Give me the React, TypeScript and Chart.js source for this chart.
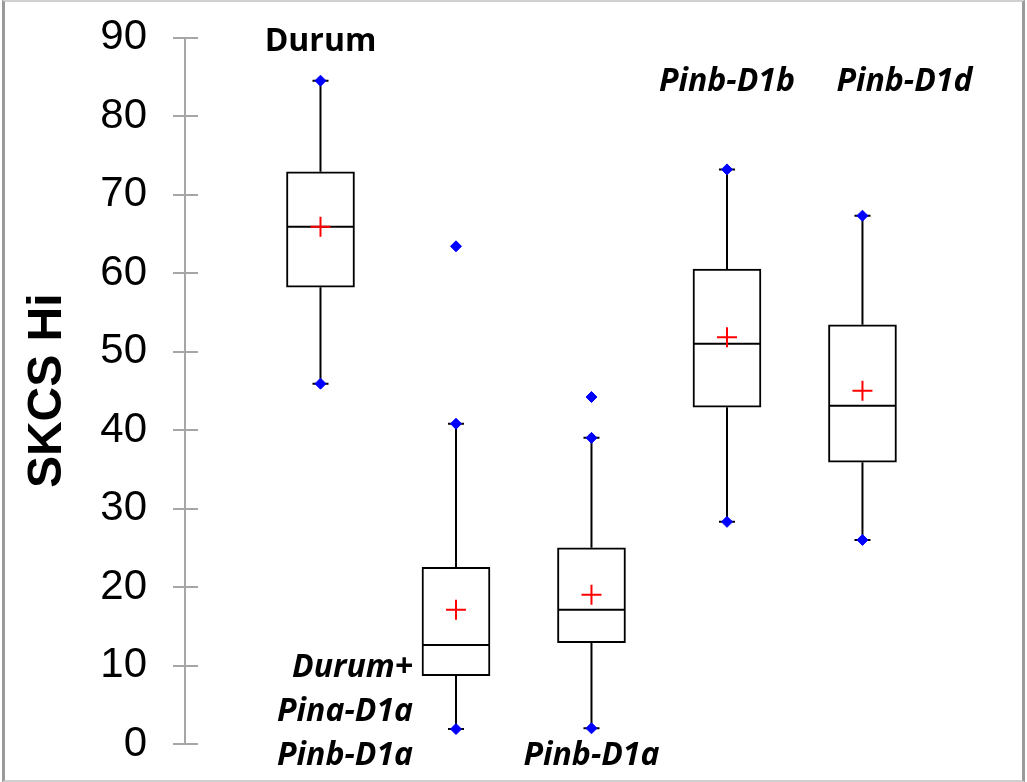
import React, { useEffect, useRef } from 'react';
import { Chart, registerables } from 'chart.js';

Chart.register(...registerables);

// ---- data ----
const categories = ['Durum', 'Durum+ Pina-D1a Pinb-D1a', 'Pinb-D1a', 'Pinb-D1b', 'Pinb-D1d'];
const minVals = [45.9, 1.9, 2.0, 28.3, 26.0];
const q1Vals = [58.2, 8.7, 12.9, 42.9, 35.9];
const medianVals = [65.9, 12.6, 17.1, 51.0, 43.1];
const q3Vals = [72.9, 22.5, 25.0, 60.5, 53.4];
const maxVals = [84.5, 40.8, 39.0, 73.2, 67.3];
const meanVals = [65.9, 17.1, 19.0, 51.8, 45.0];
const outlierCat = [1, 2];
const outlierVals = [63.4, 44.2];

const yTicksMin = 0;
const yTicksMax = 90;
const yTicksStep = 10;
const yTitle = 'SKCS Hi';
const xMin = -1;
const xMax = 4.956;

// group label annotations (anchor in data units)
const labelTexts = ['Durum', 'Durum+', 'Pina-D1a', 'Pinb-D1a', 'Pinb-D1a', 'Pinb-D1b', 'Pinb-D1d'];
const labelAtX = [0, 0.683, 0.683, 0.683, 2, 3, 4.31];
const labelAtY = [89.4, 9.7, 4.1, -1.5, -1.5, 84.4, 84.4];
const labelAlign = ['center', 'right', 'right', 'right', 'center', 'center', 'center'];
const labelItalic = [false, true, true, true, true, true, true];

const AXIS_COLOR = '#a6a6a6';
const LABEL_FONT = '"Open Sans", "Liberation Sans", sans-serif';

const decorPlugin = {
  id: 'decor',
  afterDraw(chart: any) {
    const { ctx, scales, chartArea } = chart;
    const x = scales.x;
    const y = scales.y;
    ctx.save();
    ctx.strokeStyle = AXIS_COLOR;
    ctx.lineWidth = 2;
    y.ticks.forEach((t: any) => {
      const py = Math.round(y.getPixelForValue(t.value));
      ctx.beginPath();
      ctx.moveTo(chartArea.left, py);
      ctx.lineTo(chartArea.left + 13, py);
      ctx.stroke();
    });
    ctx.fillStyle = '#000';
    ctx.textBaseline = 'middle';
    labelTexts.forEach((txt, i) => {
      ctx.font = `${labelItalic[i] ? 'italic ' : ''}bold 32px ${LABEL_FONT}`;
      ctx.textAlign = labelAlign[i];
      ctx.fillText(txt, x.getPixelForValue(labelAtX[i]), y.getPixelForValue(labelAtY[i]));
    });
    ctx.restore();
  },
};

export default function App() {
  const ref = useRef<HTMLCanvasElement>(null);

  useEffect(() => {
    const idx = categories.map((_, i) => i);
    const whiskerData: any[] = [];
    idx.forEach((i) => {
      whiskerData.push({ x: i, y: maxVals[i] });
      whiskerData.push({ x: i, y: q3Vals[i] });
      whiskerData.push({ x: i, y: null });
      whiskerData.push({ x: i, y: q1Vals[i] });
      whiskerData.push({ x: i, y: minVals[i] });
      whiskerData.push({ x: i, y: null });
    });
    const extremeData = idx.flatMap((i) => [
      { x: i, y: minVals[i] },
      { x: i, y: maxVals[i] },
    ]);
    const diamondData = [
      ...extremeData,
      ...outlierCat.map((c, k) => ({ x: c, y: outlierVals[k] })),
    ];

    const chart = new Chart(ref.current as HTMLCanvasElement, {
      type: 'bar',
      data: {
        datasets: [
          {
            type: 'scatter',
            label: 'extremes',
            data: diamondData,
            pointStyle: 'rectRot',
            pointRadius: 5.5,
            pointBackgroundColor: '#0000ff',
            pointBorderColor: '#0000ff',
            pointBorderWidth: 1,
            backgroundColor: '#0000ff',
            borderColor: '#0000ff',
            order: 1,
          } as any,
          {
            type: 'scatter',
            label: 'caps',
            data: extremeData,
            pointStyle: 'line',
            pointRadius: 8,
            pointBorderColor: '#000',
            pointBorderWidth: 2,
            borderColor: '#000',
            order: 2,
          } as any,
          {
            type: 'scatter',
            label: 'mean',
            data: idx.map((i) => ({ x: i, y: meanVals[i] })),
            pointStyle: 'cross',
            pointRadius: 10,
            pointBorderColor: '#ff0000',
            pointBorderWidth: 2,
            borderColor: '#ff0000',
            order: 3,
          } as any,
          {
            type: 'scatter',
            label: 'median',
            data: idx.map((i) => ({ x: i, y: medianVals[i] })),
            pointStyle: 'line',
            pointRadius: 33,
            pointBorderColor: '#000',
            pointBorderWidth: 2,
            borderColor: '#000',
            order: 4,
          } as any,
          {
            type: 'line',
            label: 'whiskers',
            data: whiskerData,
            borderColor: '#000',
            borderWidth: 2,
            pointRadius: 0,
            spanGaps: false,
            fill: false,
            tension: 0,
            order: 5,
          } as any,
          {
            type: 'bar',
            label: 'box',
            data: idx.map((i) => ({ x: i, y: [q1Vals[i], q3Vals[i]] })),
            backgroundColor: '#ffffff',
            borderColor: '#000',
            borderWidth: 2,
            borderSkipped: false,
            barThickness: 68,
            order: 6,
          } as any,
        ],
      },
      options: {
        animation: false,
        responsive: false,
        devicePixelRatio: 1,
        events: [],
        layout: { padding: { left: 0, right: 29, top: 37.5, bottom: 38 } },
        plugins: {
          legend: { display: false },
          tooltip: { enabled: false },
        },
        scales: {
          x: {
            type: 'linear',
            min: xMin,
            max: xMax,
            offset: false,
            display: false,
          },
          y: {
            type: 'linear',
            min: yTicksMin,
            max: yTicksMax,
            ticks: {
              stepSize: yTicksStep,
              color: '#000',
              padding: 26,
              font: { family: '"Liberation Sans", Arial, sans-serif', size: 42, lineHeight: 0.4 },
            },
            grid: {
              drawOnChartArea: false,
              tickLength: 12,
              color: AXIS_COLOR,
              lineWidth: 2,
            },
            border: { display: true, color: AXIS_COLOR, width: 2 },
            title: {
              display: true,
              text: yTitle,
              color: '#000',
              padding: { top: 19, bottom: 0 },
              font: { family: '"Liberation Sans", Arial, sans-serif', size: 48, weight: 'bold' },
            },
            afterFit: (s: any) => {
              s.width = 185;
            },
          },
        },
      },
      plugins: [decorPlugin],
    } as any);
    return () => chart.destroy();
  }, []);

  return (
    <div style={{ position: 'absolute', left: 0, top: 0, width: 1027, height: 782, background: '#fff' }}>
      <canvas ref={ref} width={1027} height={782} style={{ position: 'absolute', left: 0, top: 0, display: 'block' }} />
      <div
        style={{
          position: 'absolute',
          left: 2,
          top: 0,
          width: 1017,
          height: 778,
          borderLeft: '3px solid #9a9a9a',
          borderRight: '3px solid #9a9a9a',
          borderTop: '2px solid #d0d0d0',
          borderBottom: '2px solid #d0d0d0',
          pointerEvents: 'none',
        }}
      />
    </div>
  );
}
